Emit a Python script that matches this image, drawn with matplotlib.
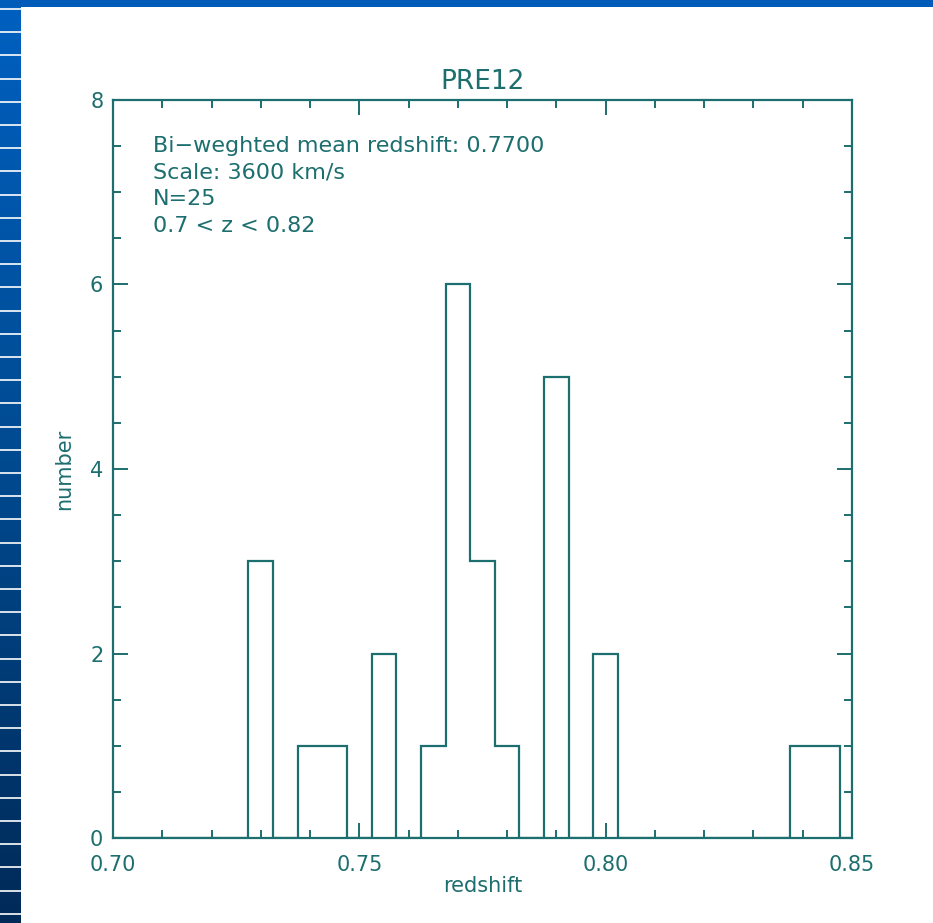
import matplotlib
matplotlib.use("Agg")
import matplotlib.pyplot as plt
import numpy as np
from matplotlib.ticker import MultipleLocator

# histogram of redshifts, bin width 0.005 (non-empty bins only)
bin_centers = [0.730, 0.740, 0.745, 0.755, 0.765, 0.770, 0.775, 0.780, 0.790, 0.800, 0.840, 0.845]
counts = [3, 1, 1, 2, 1, 6, 3, 1, 5, 2, 1, 1]
bin_width = 0.005

title = "PRE12"
info_lines = [
    "Bi\u2212weghted mean redshift: 0.7700",
    "Scale: 3600 km/s",
    "N=25",
    "0.7 < z < 0.82",
]

ink = "#1d6e6e"
W, H = 933, 923

fig = plt.figure(figsize=(W / 100, H / 100), dpi=100)
fig.patch.set_facecolor("white")

# slide decoration: blue top bar and striped left band
bg = fig.add_axes([0, 0, 1, 1], zorder=-5)
bg.set_xlim(0, W)
bg.set_ylim(H, 0)
bg.axis("off")
grad = np.linspace(0, 1, 256).reshape(-1, 1)
cmap = matplotlib.colors.LinearSegmentedColormap.from_list("band", ["#0060c0", "#004a90", "#002a58"])
bg.imshow(grad, cmap=cmap, extent=(0, 21, H, 0), aspect="auto")
bg.add_patch(plt.Rectangle((0, 0), W, 7, color="#005cb8", lw=0))
for yy in np.arange(9, H, 23.2):
    bg.plot([0, 21], [yy, yy], color="white", lw=1.2)

ax = fig.add_axes([113 / W, 1 - 838 / H, (852 - 113) / W, (838 - 100) / H])
full_centers = np.round(np.arange(0.700, 0.8501, bin_width), 3)
full_counts = np.zeros(len(full_centers))
for c, n in zip(bin_centers, counts):
    full_counts[np.argmin(np.abs(full_centers - c))] = n
edges = np.append(full_centers - bin_width / 2, full_centers[-1] + bin_width / 2)
ax.stairs(full_counts, edges, color=ink, lw=1.6, baseline=0)

ax.set_xlim(0.70, 0.85)
ax.set_ylim(0, 8)
ax.xaxis.set_major_locator(MultipleLocator(0.05))
ax.xaxis.set_minor_locator(MultipleLocator(0.01))
ax.yaxis.set_major_locator(MultipleLocator(2))
ax.yaxis.set_minor_locator(MultipleLocator(0.5))
ax.xaxis.set_major_formatter(matplotlib.ticker.FormatStrFormatter("%.2f"))
for s in ax.spines.values():
    s.set_color(ink)
    s.set_linewidth(1.6)
ax.tick_params(which="both", direction="in", top=True, right=True, colors=ink, width=1.4)
ax.tick_params(which="major", length=11, labelsize=15, labelcolor=ink)
ax.tick_params(which="minor", length=6)
ax.tick_params(axis="x", which="major", pad=12)
ax.tick_params(axis="y", which="major", pad=7)

ax.set_title(title, fontsize=19, color=ink, pad=8)
ax.set_xlabel("redshift", fontsize=15, color=ink, labelpad=1)
ax.set_ylabel("number", fontsize=15, color=ink, labelpad=11)

for i, line in enumerate(info_lines):
    ax.text(0.054, 0.937 - i * 0.0358, line, transform=ax.transAxes,
            fontsize=16, color=ink, va="center", ha="left")

fig.savefig("out.png", dpi=100)
